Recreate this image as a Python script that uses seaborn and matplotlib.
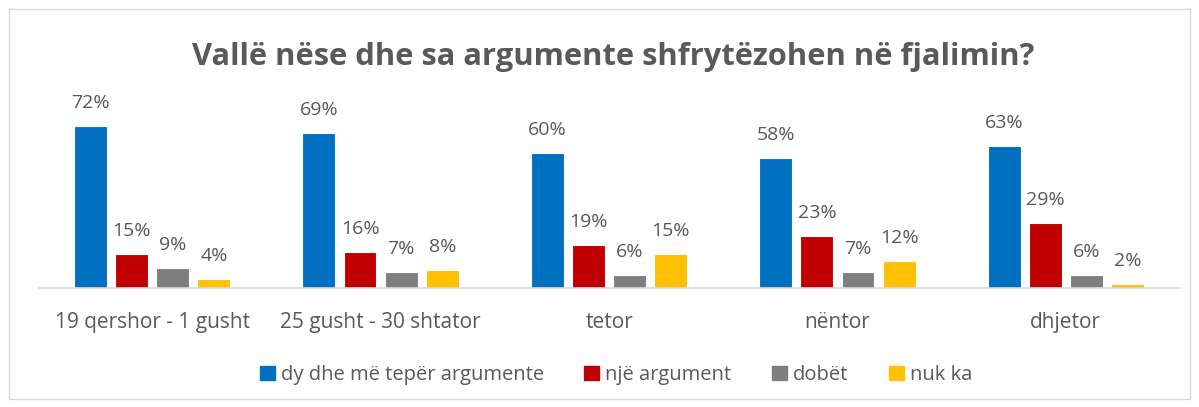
import pandas as pd
import numpy as np
import seaborn as sns
import matplotlib.pyplot as plt
from matplotlib.patches import Rectangle

periudhat = ['19 qershor - 1 gusht', '25 gusht - 30 shtator', 'tetor', 'nëntor', 'dhjetor']
seri = ['dy dhe më tepër argumente', 'një argument', 'dobët', 'nuk ka']
dy_dhe_me_teper = [72, 69, 60, 58, 63]
nje_argument = [15, 16, 19, 23, 29]
dobet = [9, 7, 6, 7, 6]
nuk_ka = [4, 8, 15, 12, 2]
ngjyrat = ['#0070C0', '#C00000', '#7F7F7F', '#FFC000']

df = pd.DataFrame({
    'periudha': periudhat * 4,
    'seria': np.repeat(seri, len(periudhat)),
    'vlera': dy_dhe_me_teper + nje_argument + dobet + nuk_ka,
})

sns.set_theme()
sns.set_style('white')
plt.rcParams['font.family'] = ['Open Sans', 'DejaVu Sans']
gri = '#595959'

fig = plt.figure(figsize=(11.99, 4.07), dpi=100)
ax = fig.add_axes([38 / 1199, (407 - 288) / 407, (1180 - 38) / 1199, 180 / 407])
sns.barplot(data=df, x='periudha', y='vlera', hue='seria', palette=ngjyrat, saturation=1,
            width=0.72, gap=0.2, edgecolor='white', linewidth=0.8, ax=ax, legend=False)

for c in ax.containers:
    ax.bar_label(c, labels=[f'{int(v)}%' for v in c.datavalues], padding=10,
                 fontsize=14, color=gri)

ax.set_ylim(0, 80)
ax.set_xlim(-0.5, 4.5)
ax.set_yticks([])
ax.set_xlabel('')
ax.set_ylabel('')
for s in ['top', 'left', 'right']:
    ax.spines[s].set_visible(False)
ax.spines['bottom'].set_color('#D9D9D9')
ax.spines['bottom'].set_linewidth(1.2)
ax.tick_params(axis='x', length=0, pad=17, labelsize=15, labelcolor=gri)

fig.text(613 / 1199, 1 - 57 / 407, 'Vallë nëse dhe sa argumente shfrytëzohen në fjalimin?',
         ha='center', va='center', fontsize=22.2, fontweight='bold', color=gri)

handles = [Rectangle((0, 0), 1, 1, color=c) for c in ngjyrat]
fig.legend(handles, seri, loc='center', bbox_to_anchor=(616 / 1199, 1 - 375 / 407), ncol=4,
           frameon=False, fontsize=14.5, labelcolor=gri, handlelength=0.75, handleheight=0.75,
           handletextpad=0.3, columnspacing=2.0)

fig.patches.append(Rectangle((9 / 1199, 8 / 407), 1181 / 1199, 390 / 407, transform=fig.transFigure,
                             fill=False, edgecolor='#D9D9D9', linewidth=1))

plt.savefig('out.png', dpi=100)
